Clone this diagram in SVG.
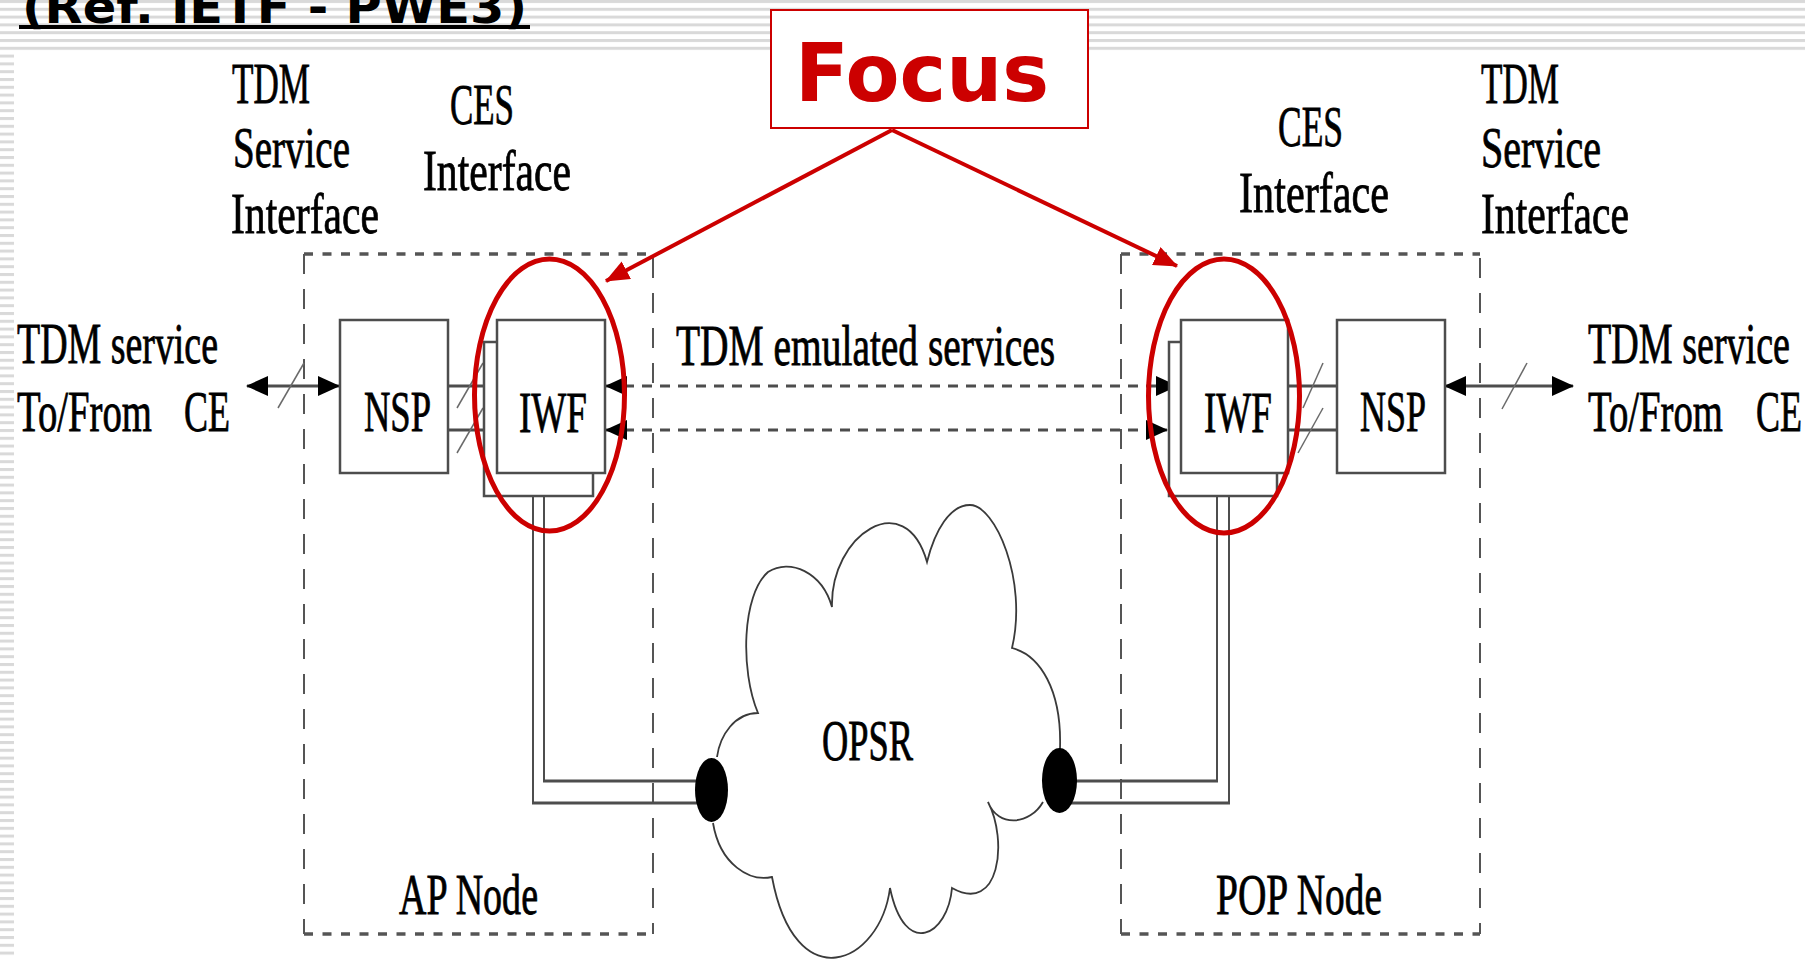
<svg xmlns="http://www.w3.org/2000/svg" width="1805" height="959" viewBox="0 0 1805 959">
  <defs>
    <pattern id="stripes" width="10" height="7.8" patternUnits="userSpaceOnUse">
      <rect width="10" height="3" fill="#d9d9d9"/>
    </pattern>
    <marker id="tip" viewBox="0 0 22 20" refX="21" refY="10" markerWidth="22" markerHeight="20" markerUnits="userSpaceOnUse" orient="auto-start-reverse">
      <path d="M0,0 L22,10 L0,20 Z" fill="#000" stroke="none"/>
    </marker>
    <marker id="redtip" viewBox="0 0 24 20" refX="23" refY="10" markerWidth="24" markerHeight="20" markerUnits="userSpaceOnUse" orient="auto">
      <path d="M0,0 L24,10 L0,20 Z" fill="#cc0000" stroke="none"/>
    </marker>
    <style>
      .lbl { font-family: "Liberation Serif", "Times New Roman", serif; font-size: 56px; fill: #000; stroke: #000; stroke-width: 0.8px; }
      .box { fill: #fff; stroke: #4d4d4d; stroke-width: 2.5; }
      .wire { fill: none; stroke: #4d4d4d; stroke-width: 3; }
      .thin { fill: none; stroke: #4d4d4d; stroke-width: 2; }
      .slash { stroke: #6a6a6a; stroke-width: 1.5; }
      .dash-h { stroke: #555; stroke-width: 3.5; stroke-dasharray: 9 9.5; }
      .dash-v { stroke: #555; stroke-width: 2; stroke-dasharray: 20 15; }
      .emu { fill: none; stroke: #4d4d4d; stroke-width: 3; stroke-dasharray: 10 8; }
      .red { fill: none; stroke: #cc0000; }
    </style>
  </defs>

  <!-- page background with striped template bands -->
  <rect width="1805" height="959" fill="#fff"/>
  <rect x="0" y="0" width="1805" height="53" fill="url(#stripes)"/>
  <rect x="0" y="53" width="14" height="906" fill="url(#stripes)"/>

  <!-- heading -->
  <g id="heading">
    <text x="22" y="23" font-family="DejaVu Sans, Verdana, sans-serif" font-weight="bold" font-size="46" textLength="505" lengthAdjust="spacingAndGlyphs" fill="#000">(Ref. IETF - PWE3)</text>
    <rect x="19" y="25" width="511" height="4" fill="#000"/>
  </g>

  <!-- access-side node -->
  <g id="ap-node">
    <line class="dash-h" x1="304" y1="254" x2="653" y2="254"/>
    <line class="dash-h" x1="304" y1="934" x2="653" y2="934"/>
    <line class="dash-v" x1="304" y1="254" x2="304" y2="934"/>
    <line class="dash-v" x1="653" y1="258" x2="653" y2="934"/>
    <text class="lbl" x="399" y="914" textLength="139" lengthAdjust="spacingAndGlyphs">AP Node</text>
  </g>

  <!-- point-of-presence node -->
  <g id="pop-node">
    <line class="dash-h" x1="1121" y1="254" x2="1480" y2="254"/>
    <line class="dash-h" x1="1121" y1="934" x2="1480" y2="934"/>
    <line class="dash-v" x1="1121" y1="254" x2="1121" y2="934"/>
    <line class="dash-v" x1="1480" y1="258" x2="1480" y2="934"/>
    <text class="lbl" x="1216" y="914" textLength="166" lengthAdjust="spacingAndGlyphs">POP Node</text>
  </g>

  <!-- connectors -->
  <g id="connectors">
    <!-- TDM service lines to/from CE -->
    <line class="wire" x1="247" y1="386" x2="339" y2="386" marker-start="url(#tip)" marker-end="url(#tip)"/>
    <line class="slash" x1="278" y1="408" x2="304" y2="363"/>
    <line class="wire" x1="1445" y1="386" x2="1573" y2="386" marker-start="url(#tip)" marker-end="url(#tip)"/>
    <line class="slash" x1="1502" y1="409" x2="1527" y2="363"/>

    <!-- NSP to IWF links -->
    <line class="wire" x1="448" y1="386" x2="484" y2="386"/>
    <line class="wire" x1="448" y1="430" x2="484" y2="430"/>
    <line class="slash" x1="457" y1="408" x2="483" y2="363"/>
    <line class="slash" x1="457" y1="453" x2="483" y2="408"/>
    <line class="wire" x1="1288" y1="386" x2="1337" y2="386"/>
    <line class="wire" x1="1288" y1="430" x2="1337" y2="430"/>
    <line class="slash" x1="1303" y1="408" x2="1323" y2="363"/>
    <line class="slash" x1="1298" y1="453" x2="1323" y2="408"/>

    <!-- emulated TDM services between the IWFs -->
    <line class="emu" x1="606" y1="386" x2="1177" y2="386" marker-start="url(#tip)" marker-end="url(#tip)"/>
    <line class="emu" x1="606" y1="430" x2="1167" y2="430" marker-start="url(#tip)" marker-end="url(#tip)"/>

    <!-- IWF attachments into the OPSR ring -->
    <polyline class="thin" points="544,473 544,781"/>
    <polyline class="thin" points="533,496 533,803"/>
    <line class="wire" x1="543" y1="781" x2="700" y2="781"/>
    <line class="wire" x1="532" y1="803" x2="700" y2="803"/>
    <polyline class="thin" points="1229,473 1229,803"/>
    <polyline class="thin" points="1217,496 1217,781"/>
    <line class="wire" x1="1060" y1="781" x2="1218" y2="781"/>
    <line class="wire" x1="1060" y1="803" x2="1230" y2="803"/>
  </g>

  <!-- network service processors -->
  <g id="nsp-left">
    <rect class="box" x="340" y="320" width="108" height="153"/>
    <text class="lbl" x="364" y="431" textLength="67" lengthAdjust="spacingAndGlyphs">NSP</text>
  </g>
  <g id="nsp-right">
    <rect class="box" x="1337" y="320" width="108" height="153"/>
    <text class="lbl" x="1360" y="431" textLength="66" lengthAdjust="spacingAndGlyphs">NSP</text>
  </g>

  <!-- interworking functions (stacked) -->
  <g id="iwf-left">
    <rect class="box" x="484" y="342" width="109" height="154"/>
    <rect class="box" x="497" y="320" width="108" height="153"/>
    <text class="lbl" x="519" y="432" textLength="68" lengthAdjust="spacingAndGlyphs">IWF</text>
  </g>
  <g id="iwf-right">
    <rect class="box" x="1169" y="342" width="108" height="154"/>
    <rect class="box" x="1181" y="320" width="107" height="153"/>
    <text class="lbl" x="1204" y="432" textLength="68" lengthAdjust="spacingAndGlyphs">IWF</text>
  </g>

  <!-- optical packet switched ring cloud -->
  <g id="opsr">
    <path fill="none" stroke="#3a3a3a" stroke-width="1.8" d="
      M717,757 C720,735 735,713 758,713
      C740,670 742,595 768,572
      C790,558 822,572 832,607
      C830,535 905,485 927,562
      C935,530 950,505 970,505
      C995,505 1028,580 1012,648
      C1040,655 1062,690 1060,749
      M1043,802 C1030,825 998,828 988,802
      C1008,840 1000,915 952,888
      C948,935 905,960 890,888
      C880,965 795,1000 772,877
      C750,882 720,865 713,823"/>
    <ellipse cx="711.5" cy="790" rx="16.5" ry="32" fill="#000"/>
    <ellipse cx="1059.5" cy="780.5" rx="17.5" ry="32.5" fill="#000"/>
    <text class="lbl" x="822" y="760" textLength="91" lengthAdjust="spacingAndGlyphs">OPSR</text>
  </g>

  <!-- interface and service labels -->
  <g id="labels">
    <text class="lbl" x="232" y="103" textLength="78" lengthAdjust="spacingAndGlyphs">TDM</text>
    <text class="lbl" x="233" y="167" textLength="117" lengthAdjust="spacingAndGlyphs">Service</text>
    <text class="lbl" x="231" y="233" textLength="148" lengthAdjust="spacingAndGlyphs">Interface</text>
    <text class="lbl" x="450" y="124" textLength="64" lengthAdjust="spacingAndGlyphs">CES</text>
    <text class="lbl" x="423" y="190" textLength="148" lengthAdjust="spacingAndGlyphs">Interface</text>

    <text class="lbl" x="1278" y="146" textLength="65" lengthAdjust="spacingAndGlyphs">CES</text>
    <text class="lbl" x="1239" y="212" textLength="150" lengthAdjust="spacingAndGlyphs">Interface</text>
    <text class="lbl" x="1481" y="103" textLength="78" lengthAdjust="spacingAndGlyphs">TDM</text>
    <text class="lbl" x="1481" y="167" textLength="120" lengthAdjust="spacingAndGlyphs">Service</text>
    <text class="lbl" x="1481" y="233" textLength="148" lengthAdjust="spacingAndGlyphs">Interface</text>

    <text class="lbl" x="17" y="363" textLength="201" lengthAdjust="spacingAndGlyphs">TDM service</text>
    <text class="lbl" x="17" y="431" textLength="135" lengthAdjust="spacingAndGlyphs">To/From</text>
    <text class="lbl" x="184" y="431" textLength="46" lengthAdjust="spacingAndGlyphs">CE</text>

    <text class="lbl" x="1588" y="363" textLength="202" lengthAdjust="spacingAndGlyphs">TDM service</text>
    <text class="lbl" x="1588" y="431" textLength="135" lengthAdjust="spacingAndGlyphs">To/From</text>
    <text class="lbl" x="1756" y="431" textLength="46" lengthAdjust="spacingAndGlyphs">CE</text>

    <text class="lbl" x="676" y="365" textLength="379" lengthAdjust="spacingAndGlyphs">TDM emulated services</text>
  </g>

  <!-- highlighted focus callout -->
  <g id="focus">
    <rect x="771" y="10" width="317" height="118" fill="#fff" stroke="#cc0000" stroke-width="2"/>
    <text x="795" y="101" font-family="DejaVu Sans, Verdana, sans-serif" font-weight="bold" font-size="80" textLength="254" lengthAdjust="spacingAndGlyphs" fill="#cc0000">Focus</text>
    <line class="red" stroke-width="4" x1="892" y1="130" x2="606" y2="281" marker-end="url(#redtip)"/>
    <line class="red" stroke-width="4" x1="892" y1="130" x2="1177" y2="266" marker-end="url(#redtip)"/>
    <ellipse class="red" stroke-width="5" cx="549.5" cy="395" rx="75" ry="136"/>
    <ellipse class="red" stroke-width="5" cx="1224" cy="396" rx="75.5" ry="137"/>
  </g>
</svg>
